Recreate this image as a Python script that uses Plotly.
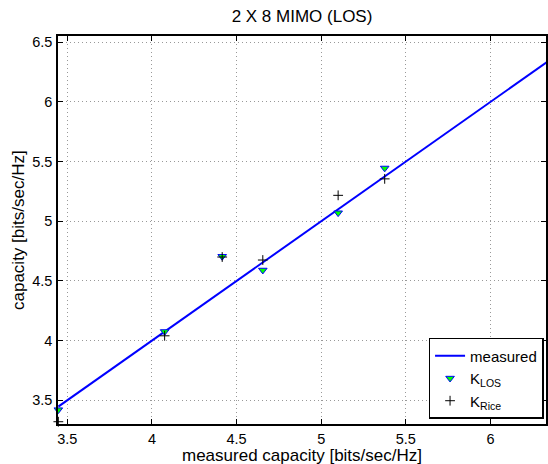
import plotly.graph_objects as go

# Data
measured = [3.447, 4.075, 4.415, 4.655, 5.100, 5.375, 6.360]
k_los = [3.420, 4.075, 4.705, 4.590, 5.070, 5.445, 6.360]
k_rice = [3.320, 4.040, 4.700, 4.675, 5.217, 5.355, 6.330]

x_ticks = [3.5, 4, 4.5, 5, 5.5, 6]
y_ticks = [3.5, 4, 4.5, 5, 5.5, 6, 6.5]

FONT = "Liberation Sans, Arial, Helvetica, sans-serif"

fig = go.Figure()
fig.add_trace(go.Scatter(
    x=measured, y=measured, mode="lines", name="measured",
    line=dict(color="#0000ff", width=2),
))
fig.add_trace(go.Scatter(
    x=measured, y=k_los, mode="markers", name="K<sub>LOS</sub>",
    cliponaxis=False,
    marker=dict(symbol="triangle-down", size=7.5, color="#00ff00",
                line=dict(color="#0000ff", width=1)),
))
fig.add_trace(go.Scatter(
    x=measured, y=k_rice, mode="markers", name="K<sub>Rice</sub>",
    cliponaxis=False,
    marker=dict(symbol="cross-thin", size=7, color="black",
                line=dict(color="black", width=1)),
))

axis_common = dict(
    showline=True, linecolor="black", linewidth=1.5, mirror="ticks",
    ticks="inside", ticklen=5, tickcolor="black", tickwidth=1,
    showgrid=True, gridcolor="#999999", griddash="1px,3px", gridwidth=1,
    zeroline=False, tickfont=dict(family=FONT, size=14.5, color="black"),
)

fig.update_layout(
    width=548, height=464,
    margin=dict(l=58, r=0, t=35.5, b=39.5),
    paper_bgcolor="white", plot_bgcolor="white",
    font=dict(family=FONT, color="black"),
    title=dict(text="2 X 8 MIMO (LOS)", x=0.5, xref="paper",
               y=1 - 16 / 464, yref="container", yanchor="middle",
               xanchor="center", font=dict(size=17, color="black")),
    xaxis=dict(range=[3.445, 6.328], tickvals=x_ticks,
               ticktext=[f"{v:g}" for v in x_ticks], ticklabelstandoff=1,
               **axis_common),
    yaxis=dict(range=[3.301, 6.552], tickvals=y_ticks,
               ticktext=[f"{v:g}" for v in y_ticks], ticklabelstandoff=1,
               **axis_common),
    legend=dict(x=0.995, xanchor="right", y=0.013, yanchor="bottom",
                bgcolor="white", bordercolor="black", borderwidth=1.5,
                font=dict(family=FONT, size=15, color="black"),
                tracegroupgap=0),
    showlegend=True,
    annotations=[
        dict(text="measured capacity [bits/sec/Hz]", xref="paper", yref="paper",
             x=0.5, y=0, xanchor="center", yanchor="middle", yshift=-31.2,
             showarrow=False, font=dict(size=17, color="black")),
        dict(text="capacity [bits/sec/Hz]", xref="paper", yref="paper",
             x=0, y=0.5, xanchor="center", yanchor="middle", xshift=-40,
             textangle=-90, showarrow=False, font=dict(size=17, color="black")),
    ],
)

fig.write_html(
    "out.html",
    config={"displayModeBar": False},
    post_script="document.body.style.margin='0';document.body.style.overflow='hidden';",
)
